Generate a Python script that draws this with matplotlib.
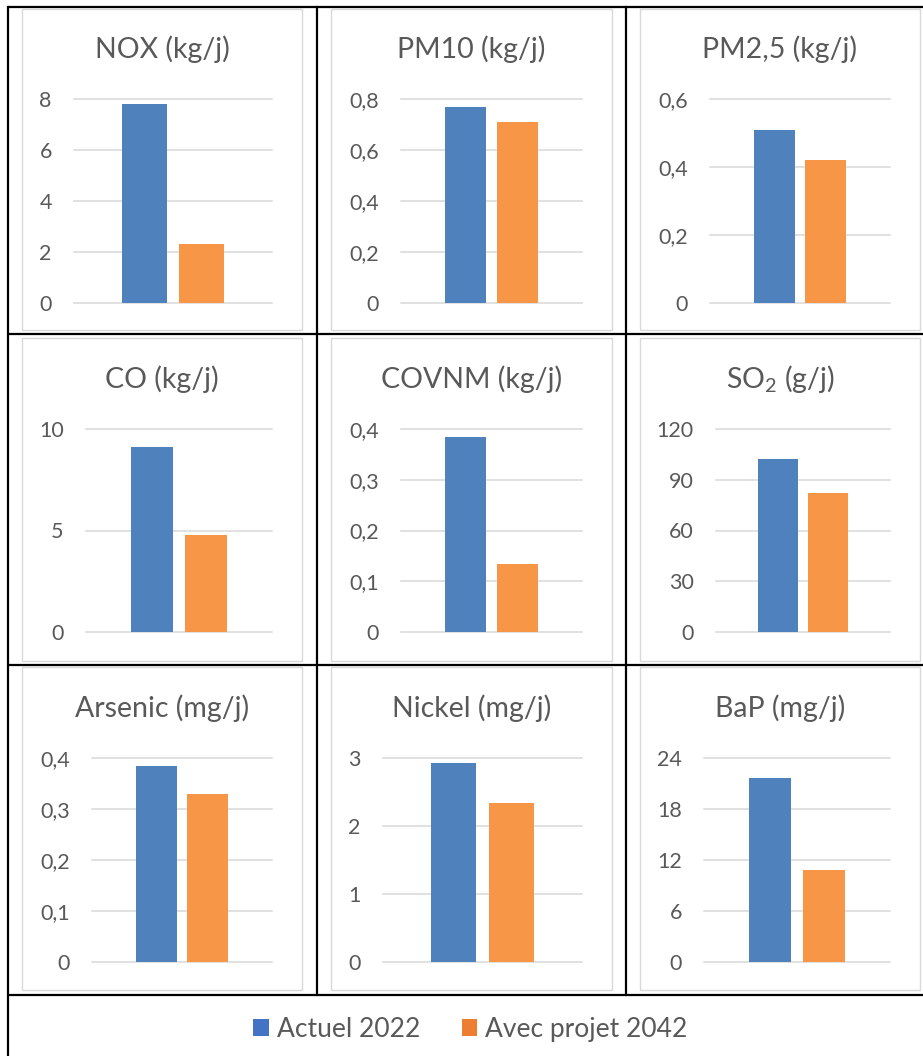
import matplotlib
matplotlib.use('Agg')
import matplotlib.pyplot as plt
from matplotlib.patches import Rectangle

plt.rcParams['font.family'] = ['Lato', 'DejaVu Sans']

# data
titles = ['NOX (kg/j)', 'PM10 (kg/j)', 'PM2,5 (kg/j)',
          'CO (kg/j)', 'COVNM (kg/j)', r'SO$_\mathregular{2}$ (g/j)',
          'Arsenic (mg/j)', 'Nickel (mg/j)', 'BaP (mg/j)']
actuel_2022 = [7.80, 0.77, 0.51, 9.10, 0.384, 102.0, 0.385, 2.93, 21.6]
avec_projet_2042 = [2.30, 0.71, 0.42, 4.77, 0.134, 82.0, 0.33, 2.34, 10.8]
y_ticks = [[0, 2, 4, 6, 8], [0, 0.2, 0.4, 0.6, 0.8], [0, 0.2, 0.4, 0.6],
           [0, 5, 10], [0, 0.1, 0.2, 0.3, 0.4], [0, 30, 60, 90, 120],
           [0, 0.1, 0.2, 0.3, 0.4], [0, 1, 2, 3], [0, 6, 12, 18, 24]]
series_names = ['Actuel 2022', 'Avec projet 2042']

# layout (pixels)
W, H = 923, 1056
col_frame = [(22, 302), (331, 612), (640, 920)]
row_frame = [(9, 330), (338, 661), (667, 990)]
plot_left = [[74, 401, 710], [86, 401, 716], [92, 383, 704]]
plot_right = [272, 582, 890]
plot_top = [99, 429, 758]
plot_bottom = [303, 632, 962]
title_base = [58, 388, 717]

BLUE = '#4F81BD'
ORANGE = '#F79646'
TXT = '#595959'
GRID = '#D9D9D9'


def fmt(v):
    return '{:g}'.format(v).replace('.', ',')


fig = plt.figure(figsize=(W / 100, H / 100), dpi=100)
bg = fig.add_axes([0, 0, 1, 1])
bg.set_xlim(0, W)
bg.set_ylim(H, 0)
bg.axis('off')

for i in range(9):
    r, c = divmod(i, 3)
    x0, x1 = col_frame[c]
    y0, y1 = row_frame[r]
    bg.add_patch(Rectangle((x0, y0), x1 - x0, y1 - y0, fill=False, ec=GRID, lw=1.0, zorder=1))
    bg.text((x0 + x1) / 2, title_base[r], titles[i], ha='center', va='baseline',
            fontsize=20.5, color=TXT)

    l, rr = plot_left[r][c], plot_right[c]
    t, b = plot_top[r], plot_bottom[r]
    ax = fig.add_axes([l / W, 1 - b / H, (rr - l) / W, (b - t) / H])
    ax.set_facecolor('none')
    ticks = y_ticks[i]
    for v in ticks:
        ax.axhline(v, color=GRID, lw=1.1, zorder=0, clip_on=False)
    ax.bar([-0.144], [actuel_2022[i]], width=0.227, color=BLUE, zorder=2)
    ax.bar([0.144], [avec_projet_2042[i]], width=0.227, color=ORANGE, zorder=2)
    ax.set_xlim(-0.5, 0.5)
    ax.set_ylim(0, ticks[-1])
    ax.set_yticks(ticks)
    ax.set_yticklabels([fmt(v) for v in ticks], fontsize=15.5, color=TXT)
    ax.tick_params(axis='y', length=0, pad=16)
    ax.set_xticks([])
    for s in ax.spines.values():
        s.set_visible(False)

# table lines
lw_tab = 1.6
for y in [7, 334, 665, 995]:
    bg.plot([8, W], [y, y], color='black', lw=lw_tab, zorder=3, solid_capstyle='butt')
bg.plot([8, 8], [7, H], color='black', lw=lw_tab, zorder=3)
for x in [317, 626]:
    bg.plot([x, x], [7, 995], color='black', lw=lw_tab, zorder=3)

# legend row
bg.add_patch(Rectangle((253, 1019), 16, 17, color='#4472C4', lw=0))
bg.text(277, 1037, series_names[0], ha='left', va='baseline', fontsize=19, color=TXT)
bg.add_patch(Rectangle((462, 1019), 15, 17, color='#ED7D31', lw=0))
bg.text(485, 1037, series_names[1], ha='left', va='baseline', fontsize=19, color=TXT)

fig.savefig('out.png', dpi=100)
plt.close(fig)
